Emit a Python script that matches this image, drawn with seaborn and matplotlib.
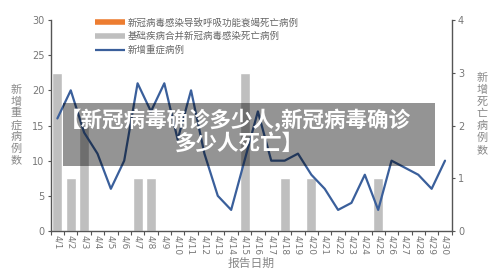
import matplotlib
matplotlib.use("Agg")
import matplotlib.pyplot as plt
from matplotlib.lines import Line2D
from matplotlib.patches import Rectangle
import seaborn as sns
import pandas as pd
import numpy as np

dates = [f"4/{d}" for d in range(1, 31)]
severe = [16, 20, 14, 11, 6, 10, 21, 17, 21, 13, 20, 11, 5, 3, 10,
          17, 10, 10, 11, 8, 6, 3, 4, 8, 3, 10, 9, 8, 6, 10]
resp_deaths = [0] * 30
comorb_deaths = [3, 1, 2, 0, 0, 0, 1, 1, 0, 0, 0, 0, 0, 0, 3,
                 0, 0, 1, 0, 1, 0, 0, 0, 0, 1, 0, 0, 0, 0, 0]
legend_labels = ["新冠病毒感染导致呼吸功能衰竭死亡病例", "基础疾病合并新冠病毒感染死亡病例", "新增重症病例"]
left_label = "新增重症病例数"
right_label = "新增死亡病例数"
x_label = "报告日期"
banner_lines = ["【新冠病毒确诊多少人,新冠病毒确诊", "多少人死亡】"]

df = pd.DataFrame({"date": dates, "severe": severe, "resp": resp_deaths, "comorb": comorb_deaths})

sns.set_theme(style="white")
plt.rcParams["font.family"] = ["Noto Sans CJK SC", "DejaVu Sans"]

W, H = 500, 269
fig = plt.figure(figsize=(5, 2.69), dpi=100)
ax = fig.add_axes([50.7 / W, 1 - 231 / H, (451.7 - 50.7) / W, (231 - 20) / H])
ax2 = ax.twinx()

grey = "#bfbfbf"
orange = "#ed7d31"
blue = "#3a5f9b"

sns.barplot(data=df, x="date", y="resp", ax=ax2, color=orange, width=0.75, saturation=1)
sns.barplot(data=df, x="date", y="comorb", ax=ax2, color=grey, width=0.75, saturation=1)
sns.lineplot(x=np.arange(len(dates)), y=severe, ax=ax, color=blue, linewidth=1.6)

ax.set_zorder(ax2.get_zorder() + 1)
ax.patch.set_visible(False)

ax.set_xlim(-0.5, 29.5)
ax.set_ylim(0, 30)
ax2.set_ylim(0, 4)
ax.set_yticks([0, 5, 10, 15, 20, 25, 30])
ax2.set_yticks([0, 1, 2, 3, 4])

for a in (ax, ax2):
    a.set_xlabel("")
    a.set_ylabel("")
    for s in a.spines.values():
        s.set_visible(False)

spcol = "#555555"
ax.spines["left"].set_visible(True)
ax.spines["bottom"].set_visible(True)
ax2.spines["right"].set_visible(True)
for s in (ax.spines["left"], ax.spines["bottom"], ax2.spines["right"]):
    s.set_color(spcol)
    s.set_linewidth(1.0)

tick_col = "#777777"
ax.set_xticks(np.arange(len(dates)))
ax.set_xticklabels(dates, rotation=270, fontsize=6.5, color=tick_col, family="DejaVu Sans")
ax.set_xticks(np.arange(-0.5, 30, 1), minor=True)
ax.tick_params(axis="x", which="major", length=0, pad=3, bottom=True, labelbottom=True)
ax.tick_params(axis="x", which="minor", length=3, width=0.8, color=spcol, direction="out", bottom=True)
ax.tick_params(axis="y", left=True, length=2.5, width=0.8, color=spcol, direction="out", labelsize=7, labelcolor=tick_col, pad=2)
ax2.tick_params(axis="y", right=True, length=2.5, width=0.8, color=spcol, direction="out", labelsize=7, labelcolor=tick_col, pad=2)
for lab in ax.get_yticklabels() + ax2.get_yticklabels():
    lab.set_family("DejaVu Sans")

handles = [Line2D([], [], color=orange, lw=4, solid_capstyle="butt"),
           Line2D([], [], color=grey, lw=4, solid_capstyle="butt"),
           Line2D([], [], color=blue, lw=1.6, solid_capstyle="butt")]
fig.legend(handles, legend_labels, loc="upper left", bbox_to_anchor=(95 / W, 1 - 18 / H), frameon=False,
           fontsize=6.8, handlelength=3.2, handletextpad=0.25, labelspacing=0.45, labelcolor="#666666",
           borderaxespad=0, borderpad=0)

lab_col = "#888888"
for i, ch in enumerate(left_label):
    fig.text(16.5 / W, 1 - (90 + i * 11.7) / H, ch, ha="center", va="center", fontsize=8, color=lab_col)
for i, ch in enumerate(right_label):
    fig.text(482 / W, 1 - (78 + i * 12) / H, ch, ha="center", va="center", fontsize=8, color=lab_col)
fig.text(251 / W, 1 - 263 / H, x_label, ha="center", va="center", fontsize=8.5, color=lab_col)

fig.add_artist(Rectangle((63 / W, 1 - 166 / H), (435 - 63) / W, 63 / H, transform=fig.transFigure,
                         facecolor="black", alpha=0.42, edgecolor="none", zorder=10))
fig.text(235 / W, 1 - 120 / H, banner_lines[0], ha="center", va="center", fontsize=15.5, color="white",
         fontweight="bold", zorder=11)
fig.text(239 / W, 1 - 143 / H, banner_lines[1], ha="center", va="center", fontsize=15.5, color="white",
         fontweight="bold", zorder=11)

fig.savefig("out.png", dpi=100)
